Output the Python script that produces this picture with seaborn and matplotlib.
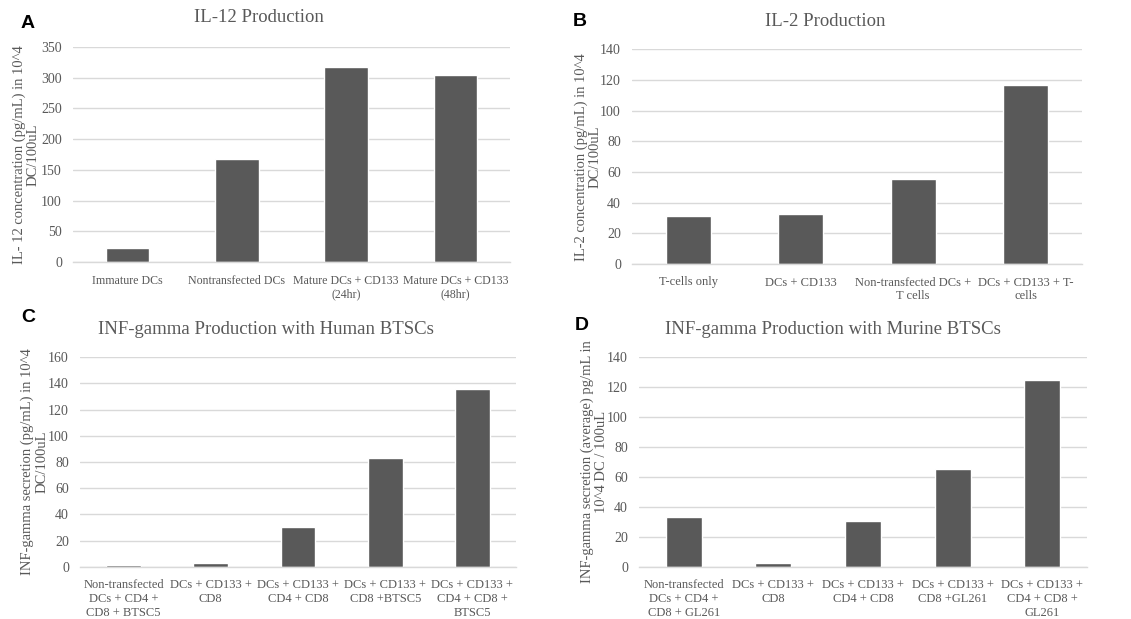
import matplotlib
matplotlib.use("Agg")
import matplotlib.pyplot as plt
import seaborn as sns
import pandas as pd

# ---- data ----
a_categories = ["Immature DCs", "Nontransfected DCs", "Mature DCs + CD133\n(24hr)", "Mature DCs + CD133\n(48hr)"]
a_values = [23, 168, 317, 305]
a_ticks = [0, 50, 100, 150, 200, 250, 300, 350]

b_categories = ["T-cells only", "DCs + CD133", "Non-transfected DCs +\nT cells", "DCs + CD133 + T-\ncells"]
b_values = [31.5, 32.5, 55.3, 116.5]
b_ticks = [0, 20, 40, 60, 80, 100, 120, 140]

c_categories = ["Non-transfected\nDCs + CD4 +\nCD8 + BTSC5", "DCs + CD133 +\nCD8", "DCs + CD133 +\nCD4 + CD8",
                "DCs + CD133 +\nCD8 +BTSC5", "DCs + CD133 +\nCD4 + CD8 +\nBTSC5"]
c_values = [1.3, 2.6, 30, 83, 136]
c_ticks = [0, 20, 40, 60, 80, 100, 120, 140, 160]

d_categories = ["Non-transfected\nDCs + CD4 +\nCD8 + GL261", "DCs + CD133 +\nCD8", "DCs + CD133 +\nCD4 + CD8",
                "DCs + CD133 +\nCD8 +GL261", "DCs + CD133 +\nCD4 + CD8 +\nGL261"]
d_values = [33, 2.2, 30.3, 65.6, 125]
d_ticks = [0, 20, 40, 60, 80, 100, 120, 140]

titles = ["IL-12 Production", "IL-2 Production",
          "INF-gamma Production with Human BTSCs", "INF-gamma Production with Murine BTSCs"]
ylabels = ["IL- 12 concentration (pg/mL) in 10^4\nDC/100uL",
           "IL-2 concentration (pg/mL) in 10^4\nDC/100uL",
           "INF-gamma secretion (pg/mL) in 10^4\nDC/100uL",
           "INF-gamma secretion (average) pg/mL in\n10^4 DC / 100uL"]
letters = ["A", "B", "C", "D"]

sns.set_theme(style="white")
plt.rcParams['font.family'] = ['Liberation Serif', 'DejaVu Serif']

BAR = "#595959"
TXT = "#595959"
GRID = "#d9d9d9"

W, H = 1131, 619
fig = plt.figure(figsize=(W / 100, H / 100), dpi=100)

def px_axes(left, top, right, bottom):
    return fig.add_axes([left / W, 1 - bottom / H, (right - left) / W, (bottom - top) / H])

panels = [
    dict(cats=a_categories, vals=a_values, ticks=a_ticks, box=(73, 47, 510, 262),
         title_xy=(259, 18), letter_xy=(28, 24), ylab_x=-0.0755, xfs=8.6),
    dict(cats=b_categories, vals=b_values, ticks=b_ticks, box=(632, 49.3, 1082, 264),
         title_xy=(825, 21), letter_xy=(580, 22), ylab_x=-0.067, xfs=9),
    dict(cats=c_categories, vals=c_values, ticks=c_ticks, box=(80, 357.3, 516, 566.7),
         title_xy=(266, 330), letter_xy=(28, 317), ylab_x=-0.073, xfs=9),
    dict(cats=d_categories, vals=d_values, ticks=d_ticks, box=(639, 357.3, 1087, 566.7),
         title_xy=(833, 330), letter_xy=(582, 325), ylab_x=-0.069, xfs=9),
]

for i, p in enumerate(panels):
    ax = px_axes(*p["box"])
    df = pd.DataFrame({"cat": p["cats"], "val": p["vals"]})
    sns.barplot(data=df, x="cat", y="val", color=BAR, saturation=1, width=0.4, ax=ax)
    n = len(p["cats"])
    ax.set_xlim(-0.5, n - 0.5)
    ax.set_ylim(0, p["ticks"][-1])
    ax.set_yticks(p["ticks"])
    ax.yaxis.grid(True, color=GRID, linewidth=1)
    ax.set_axisbelow(True)
    for s in ["top", "right", "left"]:
        ax.spines[s].set_visible(False)
    ax.spines["bottom"].set_color(GRID)
    ax.spines["bottom"].set_linewidth(1)
    ax.tick_params(axis="both", length=0, labelcolor=TXT)
    ax.tick_params(axis="y", pad=8, labelsize=10)
    ax.tick_params(axis="x", pad=9, labelsize=p["xfs"])
    ax.set_xticks(range(n))
    ax.set_xticklabels(p["cats"], linespacing=1.2)
    ax.set_xlabel("")
    ax.set_ylabel(ylabels[i], fontsize=10.5, color=TXT, linespacing=1.1)
    ax.yaxis.set_label_coords(p["ylab_x"], 0.5)
    fig.text(p["title_xy"][0] / W, 1 - p["title_xy"][1] / H, titles[i], ha="center", va="center",
             fontsize=13.5, color=TXT)
    fig.text(p["letter_xy"][0] / W, 1 - p["letter_xy"][1] / H, letters[i], ha="center", va="center",
             fontsize=14, fontweight="bold", color="black", family=["Liberation Sans", "DejaVu Sans"])

fig.savefig("out.png", dpi=100, facecolor="white")
